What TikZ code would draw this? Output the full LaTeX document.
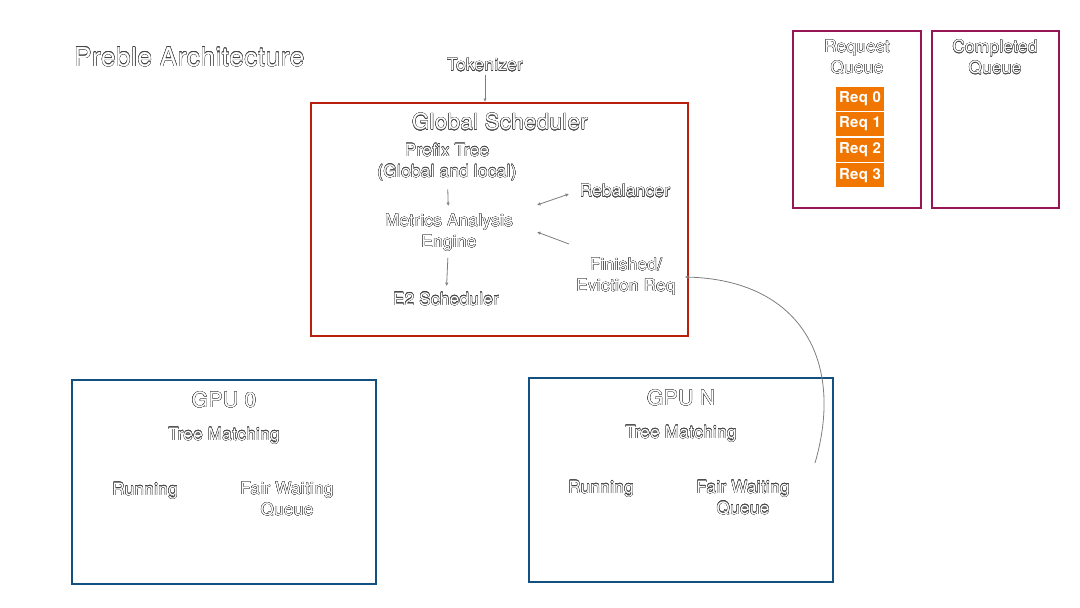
\documentclass[tikz,border=0pt]{standalone}
\usepackage{fontspec}
\setmainfont[LetterSpace=2.3]{TeX Gyre Heros}
\usepackage[copies]{contour}
\usepackage{tikz}
\usetikzlibrary{arrows.meta}
\definecolor{schedred}{RGB}{185, 30, 15}
\definecolor{queuemaroon}{RGB}{150, 22, 85}
\definecolor{gpublue}{RGB}{18, 80, 130}
\definecolor{reqorange}{RGB}{240, 118, 0}
\definecolor{olgray}{RGB}{70, 70, 70}
\definecolor{linkgray}{RGB}{125, 125, 125}
\contourlength{0.3pt}
\contournumber{16}
\newcommand{\otxt}[1]{\contour{olgray}{#1}}

\begin{document}
\begin{tikzpicture}[x=1pt, y=-1pt,
    lbl/.style={text=white, align=center, inner sep=3pt, font=\fontsize{17}{21}\selectfont},
    box/.style={draw, line width=2pt, minimum width=#1},
    req/.style={fill=reqorange, text=white, minimum width=48pt, minimum height=24pt, inner sep=0pt, font=\fontsize{15}{18}\selectfont\bfseries},
    link/.style={draw=linkgray, line width=0.8pt, -{Latex[open, length=3.5pt, width=3.5pt]}}]
  \useasboundingbox (0,0) rectangle (1080,608);

  % Title
  \node[lbl, anchor=west, font=\fontsize{26}{30}\selectfont] (title) at (71,57) {\otxt{Preble Architecture}};

  % Global Scheduler
  \node[lbl] (tok) at (485,65) {\otxt{Tokenizer}};
  \node[box=377pt, draw=schedred, minimum height=233pt] (gs) at (499.5,219.5) {};
  \node[lbl, font=\fontsize{22}{26}\selectfont] (gstitle) at (500,122) {\otxt{Global Scheduler}};
  \node[lbl] (prefix) at (447,162.5) {\otxt{Prefix Tree}\\\otxt{(Global and local)}};
  \node[lbl] (metrics) at (449,233) {\otxt{Metrics Analysis}\\\otxt{Engine}};
  \node[lbl] (e2) at (446,299) {\otxt{E2 Scheduler}};
  \node[lbl] (rebal) at (625,191) {\otxt{Rebalancer}};
  \node[lbl] (finish) at (626,277) {\otxt{Finished/}\\\otxt{Eviction Req}};

  \draw[link] (tok) -- (tok |- gs.north);
  \draw[link, shorten <=5pt, shorten >=5pt] (prefix) -- (metrics);
  \draw[link, shorten <=3pt, shorten >=3pt] (metrics) -- (e2);
  \draw[link, {Latex[open, length=3.5pt, width=3.5pt]}-{Latex[open, length=3.5pt, width=3.5pt]}] ([shift={(88,-28)}]metrics.center) -- ([shift={(-56,3)}]rebal.center);
  \draw[link] ([shift={(-57,-33)}]finish.center) -- ([shift={(88,-1)}]metrics.center);

  % Request / Completed Queue
  \node[box=128pt, draw=queuemaroon, minimum height=177pt] (rq) at (857,119.5) {};
  \node[lbl] (rqtitle) at (857,57.5) {\otxt{Request}\\\otxt{Queue}};
  \foreach \i in {0,...,3}
    \node[req] (req\i) at (860,98.5+25.6*\i) {Req \i};
  \node[box=127pt, draw=queuemaroon, minimum height=177pt] (cq) at (995.5,119.5) {};
  \node[lbl] (cqtitle) at (995,57.5) {\otxt{Completed}\\\otxt{Queue}};

  % GPU 0
  \node[box=304pt, draw=gpublue, minimum height=204pt] (gpu0) at (224,482) {};
  \node[lbl, font=\fontsize{21}{25}\selectfont] (gpu0title) at (224,400) {\otxt{GPU 0}};
  \node[lbl] (tm0) at (224,436) {\otxt{Tree Matching}};
  \node[lbl] (run0) at (145,491) {\otxt{Running}};
  \node[lbl] (fwq0) at (287,499.5) {\otxt{Fair Waiting}\\\otxt{Queue}};

  % GPU N
  \node[box=304pt, draw=gpublue, minimum height=204pt] (gpuN) at (681,480) {};
  \node[lbl, font=\fontsize{21}{25}\selectfont] (gpuNtitle) at (681,398) {\otxt{GPU N}};
  \node[lbl] (tmN) at (681,434) {\otxt{Tree Matching}};
  \node[lbl] (runN) at (601,489) {\otxt{Running}};
  \node[lbl] (fwqN) at (743,498) {\otxt{Fair Waiting}\\\otxt{Queue}};

  % evicted requests back to the scheduler
  \draw[link] ([shift={(134,-17)}]gpuN.center) .. controls ([shift={(164,-120)}]gpuN.center) and ([shift={(119,-200)}]gpuN.center) .. ([xshift=6pt]finish.east);
\end{tikzpicture}
\end{document}
